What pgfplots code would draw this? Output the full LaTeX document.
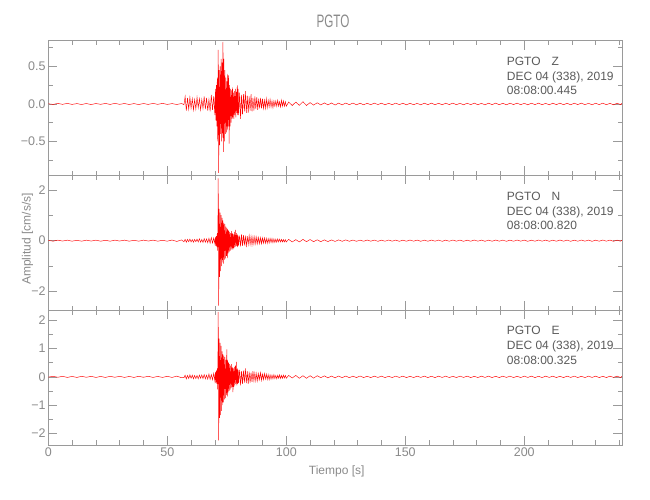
\documentclass[border=0pt]{standalone}
\usepackage{fontspec}
\setmainfont{Liberation Sans}
\newfontfamily\titlefont[FakeStretch=0.65]{Liberation Sans}
\usepackage{pgfplots}
\usepackage{pgfplotstable}
\pgfplotsset{compat=1.18}
\definecolor{axgray}{HTML}{9A9A9A}
\definecolor{labgray}{HTML}{8A8A8A}
\definecolor{anngray}{HTML}{5A5A5A}
\pgfplotstableread{
t z n e
0 0.003 0.01 -0.01
2 -0.006 -0.02 0.02
4 0.007 0.02 -0.015
6 -0.005 -0.015 0.02
8 0.008 0.02 -0.02
10 -0.006 -0.02 0.015
12 0.005 0.015 -0.02
14 -0.007 -0.02 0.02
16 0.006 0.02 -0.015
18 -0.008 -0.015 0.02
20 0.006 0.02 -0.02
22 -0.005 -0.02 0.015
24 0.007 0.015 -0.02
26 -0.006 -0.02 0.02
28 0.008 0.02 -0.015
30 -0.005 -0.015 0.02
32 0.006 0.02 -0.02
34 -0.007 -0.02 0.015
36 0.005 0.015 -0.02
38 -0.008 -0.02 0.02
40 0.006 0.02 -0.015
42 -0.006 -0.015 0.02
44 0.007 0.02 -0.02
46 -0.005 -0.02 0.015
48 0.008 0.015 -0.02
50 -0.006 -0.02 0.02
52 0.005 0.025 -0.02
54 -0.007 -0.03 0.025
56 0.006 0.03 -0.03
57 -0.01 -0.04 -0.03
57.5 0.1 0.05 0.06
58 -0.09 -0.06 -0.07
58.5 0.08 0.05 0.05
59 -0.07 -0.04 -0.06
59.5 0.09 0.06 0.07
60 -0.06 -0.05 -0.05
60.5 0.07 0.04 0.06
61 -0.08 -0.06 -0.07
61.5 0.06 0.05 0.05
62 -0.07 -0.04 -0.06
62.5 0.09 0.06 0.05
63 -0.05 -0.05 -0.07
63.5 0.07 0.07 0.06
64 -0.08 -0.06 -0.05
64.5 0.06 0.05 0.07
65 -0.06 -0.07 -0.06
65.5 0.1 0.08 0.08
66 -0.07 -0.06 -0.07
66.5 0.08 0.07 0.06
67 -0.09 -0.08 -0.08
67.5 0.06 0.09 0.1
68 -0.1 -0.1 -0.09
68.5 0.12 0.12 0.08
69 -0.08 -0.09 -0.1
69.5 0.1 0.1 0.12
70.0 -0.15 -0.12 -0.15
70.2 0.2 0.15 0.18
70.4 -0.22 -0.2 -0.2
70.6 0.25 0.18 0.22
70.8 -0.3 -0.25 -0.25
71.0 0.35 0.3 0.3
71.2 -0.5 -0.4 -0.45
71.4 0.72 2.45 2.3
71.6 -0.92 -2.55 -2.25
71.8 0.45 1.25 1.35
72.0 -0.55 -1.42 -1.45
72.2 0.5 1.1 1.2
72.4 -0.4 -1.2 -1.35
72.6 0.6 1.0 1.1
72.8 -0.5 -1.0 -1.2
73.0 0.55 0.9 0.9
73.2 -0.45 -0.85 -1.0
73.4 0.83 0.8 0.8
73.6 -0.64 -0.9 -0.9
73.8 0.6 0.7 0.75
74.0 -0.5 -0.75 -0.8
74.2 0.45 0.65 0.7
74.4 -0.4 -0.7 -0.75
74.6 0.35 0.55 0.6
74.8 -0.38 -0.6 -0.65
75.0 0.3 0.5 0.97
75.2 -0.35 -0.69 -0.7
75.4 0.4 0.45 0.6
75.6 -0.3 -0.5 -0.55
75.8 0.38 0.4 0.5
76.0 -0.53 -0.45 -0.5
76.2 0.25 0.35 0.45
76.4 -0.3 -0.4 -0.45
76.6 0.2 0.3 0.4
76.8 -0.25 -0.35 -0.4
77.0 0.18 0.38 0.45
77.2 -0.2 -0.3 -0.35
77.4 0.22 0.3 0.35
77.6 -0.18 -0.35 -0.54
77.8 0.15 0.25 0.3
78.0 -0.2 -0.3 -0.35
78.2 0.17 0.35 0.35
78.4 -0.15 -0.25 -0.3
78.6 0.2 0.42 0.4
78.8 -0.18 -0.22 -0.25
79.0 0.16 0.3 0.53
79.2 -0.12 -0.2 -0.3
79.4 0.25 0.25 0.3
79.6 -0.15 -0.25 -0.25
79.8 0.2 0.2 0.25
80.0 -0.15 -0.18 -0.22
80.4 0.15 0.2 0.25
80.8 -0.2 -0.22 -0.3
81.2 0.12 0.25 0.2
81.6 -0.14 -0.2 -0.25
82.0 0.13 0.22 0.22
82.4 -0.1 -0.18 -0.2
82.8 0.17 0.2 0.3
83.2 -0.12 -0.25 -0.22
83.6 0.11 0.18 0.2
84.0 -0.12 -0.15 -0.25
84.4 0.1 0.2 0.18
84.8 -0.09 -0.15 -0.2
85.2 0.13 0.17 0.15
85.6 -0.1 -0.17 -0.18
86.0 0.08 0.15 0.2
86.4 -0.09 -0.14 -0.15
86.8 0.1 0.16 0.14
87.2 -0.07 -0.13 -0.15
87.6 0.09 0.14 0.12
88.0 -0.08 -0.12 -0.14
88.4 0.07 0.13 0.12
88.8 -0.06 -0.12 -0.1
89.2 0.08 0.12 0.15
89.6 -0.06 -0.12 -0.12
90.0 0.07 0.11 0.1
90.4 -0.06 -0.1 -0.1
90.8 0.05 0.11 0.12
91.2 -0.06 -0.1 -0.08
91.6 0.07 0.09 0.1
92.0 -0.05 -0.1 -0.09
92.4 0.05 0.08 0.08
92.8 -0.04 -0.09 -0.1
93.2 0.06 0.09 0.07
93.6 -0.04 -0.07 -0.08
94.0 0.04 0.08 0.06
94.4 -0.05 -0.08 -0.07
94.8 0.04 0.07 0.08
95.2 -0.03 -0.07 -0.06
95.6 0.04 0.06 0.05
96.0 -0.03 -0.06 -0.07
96.4 0.05 0.07 0.06
96.8 -0.03 -0.05 -0.05
97.2 0.03 0.06 0.07
97.6 -0.04 -0.05 -0.06
98.0 0.05 0.05 0.05
98.4 -0.03 -0.05 -0.05
98.8 0.04 0.04 0.06
99.2 -0.03 -0.05 -0.04
99.6 0.03 0.04 0.05
100.0 -0.03 -0.05 -0.05
101 0.025 0.05 0.05
102.5 -0.02 -0.05 -0.04
104 0.025 0.04 0.05
105.5 -0.018 -0.05 -0.05
107 0.03 0.05 0.04
108.5 -0.02 -0.04 -0.05
110 0.018 0.045 0.04
111.5 -0.015 -0.04 -0.045
113 0.016 0.035 0.04
114.5 -0.013 -0.04 -0.03
116 0.014 0.03 0.035
117.5 -0.012 -0.035 -0.035
119 0.013 0.03 0.03
120.5 -0.014 -0.03 -0.035
122 0.011 0.03 0.03
123.5 -0.012 -0.025 -0.03
125 0.012 0.03 0.03
126.5 -0.01 -0.025 -0.03
128 0.012 0.025 0.025
129.5 -0.011 -0.025 -0.025
131 0.01 0.02 0.03
132.5 -0.011 -0.022 -0.025
134 0.009 0.025 0.02
135.5 -0.01 -0.02 -0.025
137 0.011 0.022 0.025
138.5 -0.008 -0.025 -0.02
140 0.01 0.02 0.025
141.5 -0.011 -0.022 -0.025
143 0.009 0.025 0.02
144.5 -0.01 -0.02 -0.025
146 0.011 0.022 0.025
147.5 -0.009 -0.025 -0.02
149 0.01 0.02 0.025
150.5 -0.011 -0.022 -0.025
152 0.009 0.025 0.02
153.5 -0.01 -0.02 -0.025
155 0.008 0.022 0.025
156.5 -0.011 -0.025 -0.02
158 0.01 0.02 0.025
159.5 -0.009 -0.022 -0.025
161 0.011 0.025 0.02
162.5 -0.01 -0.02 -0.025
164 0.009 0.022 0.025
165.5 -0.011 -0.025 -0.02
167 0.01 0.02 0.025
168.5 -0.008 -0.022 -0.025
170 0.011 0.025 0.02
171.5 -0.01 -0.02 -0.025
173 0.009 0.022 0.025
174.5 -0.011 -0.025 -0.02
176 0.01 0.02 0.025
177.5 -0.009 -0.022 -0.025
179 0.011 0.025 0.02
180.5 -0.01 -0.02 -0.025
182 0.008 0.022 0.025
183.5 -0.011 -0.025 -0.02
185 0.01 0.02 0.025
186.5 -0.009 -0.022 -0.025
188 0.011 0.025 0.02
189.5 -0.01 -0.02 -0.025
191 0.009 0.022 0.025
192.5 -0.011 -0.025 -0.02
194 0.01 0.02 0.025
195.5 -0.008 -0.022 -0.025
197 0.011 0.025 0.02
198.5 -0.01 -0.02 -0.025
200 0.009 0.022 0.025
201.5 -0.011 -0.025 -0.02
203 0.01 0.02 0.025
204.5 -0.009 -0.022 -0.025
206 0.011 0.025 0.02
207.5 -0.01 -0.02 -0.025
209 0.008 0.022 0.025
210.5 -0.011 -0.025 -0.02
212 0.01 0.02 0.025
213.5 -0.009 -0.022 -0.025
215 0.011 0.025 0.02
216.5 -0.01 -0.02 -0.025
218 0.009 0.022 0.025
219.5 -0.011 -0.025 -0.02
221 0.01 0.02 0.025
222.5 -0.008 -0.022 -0.025
224 0.011 0.025 0.02
225.5 -0.01 -0.02 -0.025
227 0.009 0.022 0.025
228.5 -0.011 -0.025 -0.02
230 0.01 0.02 0.025
231.5 -0.009 -0.022 -0.025
233 0.011 0.025 0.02
234.5 -0.01 -0.02 -0.025
236 0.008 0.022 0.025
237.5 -0.011 -0.025 -0.02
239 0.01 0.02 0.025
240.5 -0.009 -0.022 -0.025
241 0.008 0.02 0.02
}\seis
\pgfplotsset{
  seis/.style={
    scale only axis, width=574pt, height=134.7pt, anchor=south west,
    xmin=0, xmax=241.2,
    xtick={0,50,100,150,200},
    minor xtick={0,10,...,240},
    tick align=inside, xtick pos=both, ytick pos=both,
    xticklabel pos=lower, yticklabel pos=left,
    major tick length=9pt, minor tick length=4.5pt,
    axis line style={axgray, line width=0.6pt},
    every tick/.style={axgray, line width=0.6pt},
    tick label style={font=\fontsize{12.5}{14}\selectfont, text=labgray},
    yticklabel style={inner sep=0pt, xshift=-2.5pt},
    xticklabel style={inner sep=0pt, yshift=-3pt},
  },
  trace/.style={red, line width=0.45pt, mark=none},
}
\begin{document}
\begin{tikzpicture}[x=1pt,y=1pt]
\path[use as bounding box] (0,0) rectangle (650,500);
% Panel 1 (Z)
\begin{axis}[seis, at={(48.3pt,324.6pt)}, ymin=-0.953, ymax=0.844,
  ytick={-0.5,0,0.5}, yticklabels={−0.5,0.0,0.5},
  minor ytick={-0.75,-0.25,0.25,0.75}, xticklabels={}]
\addplot[trace] table[x=t,y=z] {\seis};
\end{axis}
% Panel 2 (N)
\begin{axis}[seis, at={(48.3pt,189.9pt)}, ymin=-2.73, ymax=2.567,
  ytick={-2,0,2}, yticklabels={−2,0,2},
  minor ytick={-1,1}, xticklabels={}]
\addplot[trace] table[x=t,y=n] {\seis};
\end{axis}
% Panel 3 (E)
\begin{axis}[seis, at={(48.3pt,55pt)}, ymin=-2.41, ymax=2.354,
  ytick={-2,-1,0,1,2}, yticklabels={−2,−1,0,1,2},
  xticklabels={0,50,100,150,200},
  minor ytick={-1.5,-0.5,0.5,1.5}]
\addplot[trace] table[x=t,y=e] {\seis};
\end{axis}
% Titles and labels
\node[anchor=base, text=labgray, font=\titlefont\fontsize{18}{20}\selectfont] at (333,472.3) {PGTO};
\node[anchor=base, text=labgray, font=\fontsize{12}{14}\selectfont] at (336.7,25) {Tiempo [s]};
\node[rotate=90, text=labgray, font=\fontsize{12}{14}\selectfont] at (27.5,261) {Amplitud [cm/s/s]};
% Annotations
\begin{scope}[every node/.style={anchor=base west, inner sep=0pt, text=anngray, font=\fontsize{12}{14}\selectfont}]
\node at (506.7,434.3) {PGTO\hspace{11pt}Z};
\node at (506.7,419.3) {DEC 04 (338), 2019};
\node at (506.7,405) {08:08:00.445};
\node at (506.7,299.8) {PGTO\hspace{11pt}N};
\node at (506.7,284.8) {DEC 04 (338), 2019};
\node at (506.7,270.5) {08:08:00.820};
\node at (506.7,165) {PGTO\hspace{11pt}E};
\node at (506.7,150) {DEC 04 (338), 2019};
\node at (506.7,135.7) {08:08:00.325};
\end{scope}
\end{tikzpicture}
\end{document}
